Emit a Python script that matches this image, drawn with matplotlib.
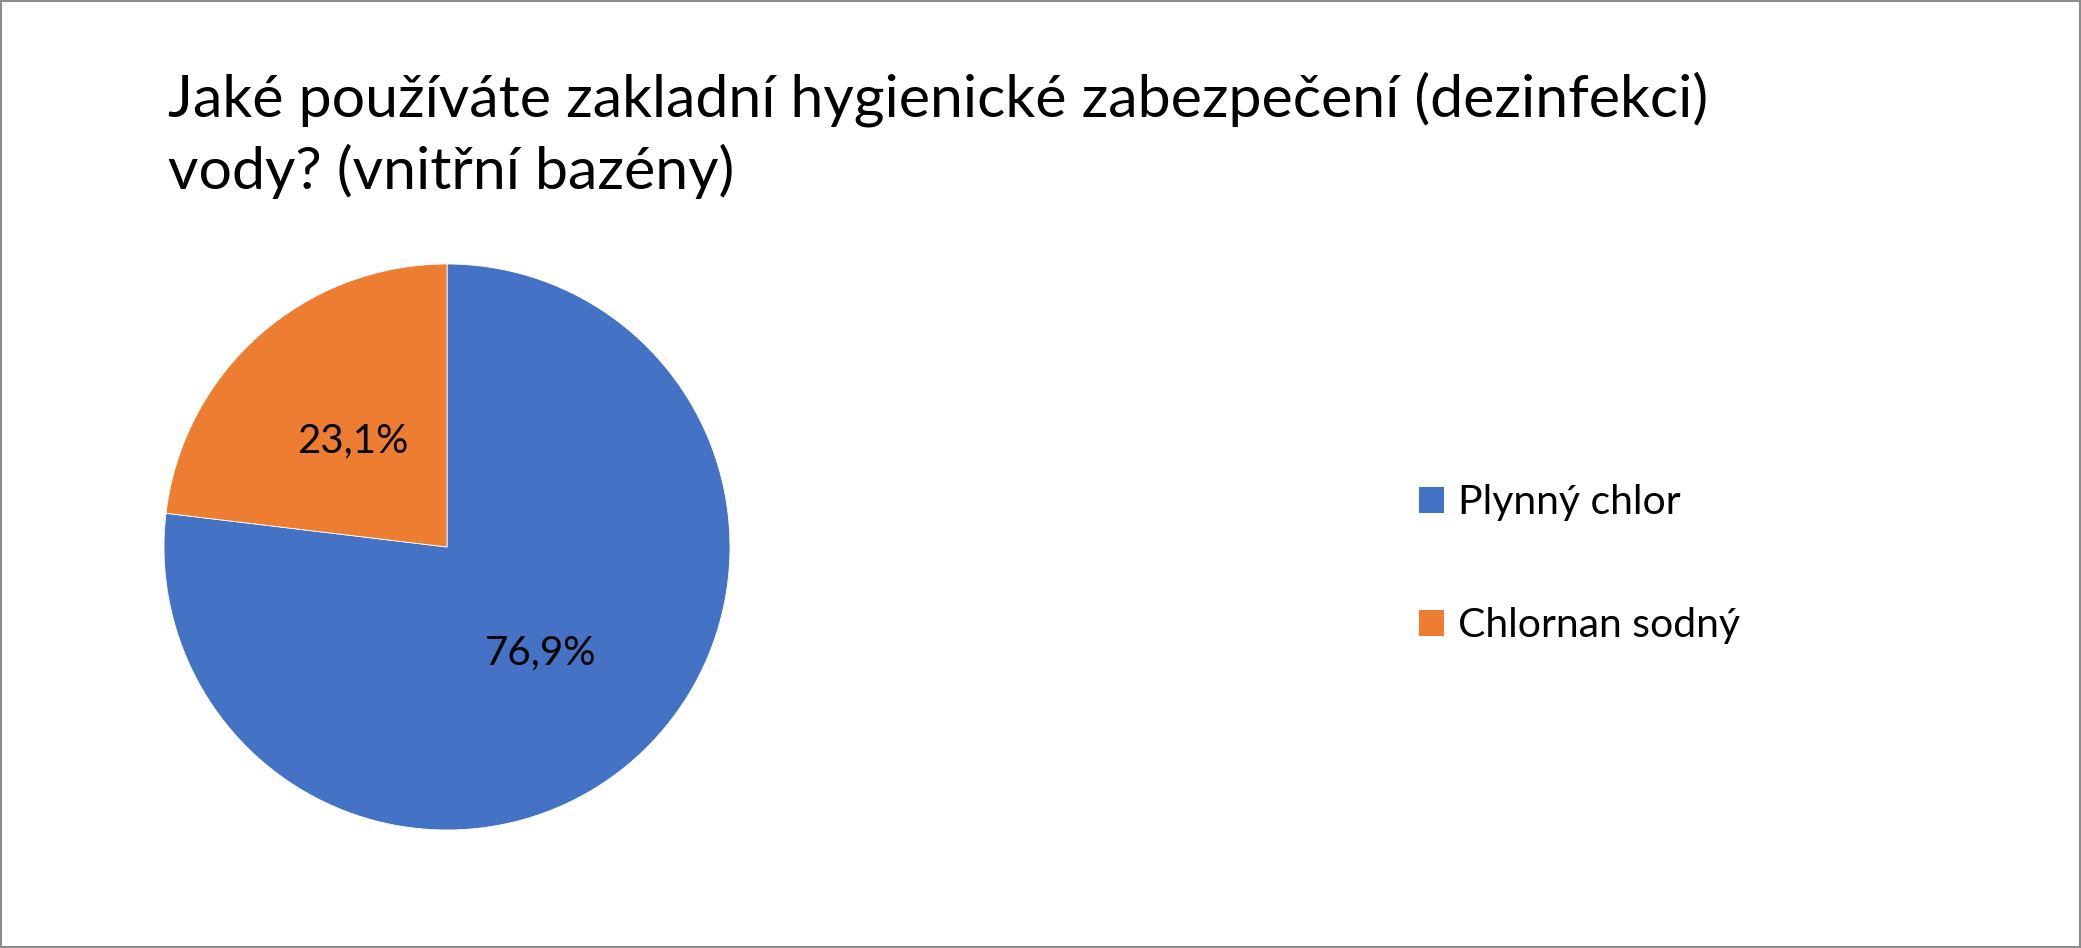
import matplotlib
matplotlib.use("Agg")
import matplotlib.pyplot as plt
from matplotlib.patches import Rectangle, Patch
import numpy as np

plt.rcParams['font.family'] = ['Lato', 'DejaVu Sans']

title = "Jaké používáte zakladní hygienické zabezpečení (dezinfekci)\nvody? (vnitřní bazény)"
categories = ["Plynný chlor", "Chlornan sodný"]
values = [76.9, 23.1]
labels_pct = ["76,9%", "23,1%"]
colors = ["#4472C4", "#ED7D31"]

W, H = 2081, 948
fig = plt.figure(figsize=(W / 100, H / 100), dpi=100)
fig.patch.set_facecolor("white")

# border
fig.patches.append(Rectangle((0.0005, 0.001), 0.999, 0.998, transform=fig.transFigure,
                             fill=False, edgecolor="#8c8c8c", linewidth=1.5))

# title (baseline of the last line)
fig.text(168 / W, 1 - 189 / H, title, fontsize=42.5, ha="left", va="baseline",
         linespacing=1.38, color="black")

cx, cy, r = 447, H - 547, 283
ax = fig.add_axes([(cx - r) / W, (cy - r) / H, 2 * r / W, 2 * r / H])
wedges, texts = ax.pie(values, colors=colors, startangle=90, counterclock=False,
                       radius=1, wedgeprops=dict(edgecolor="white", linewidth=0.6))
for w, lab in zip(wedges, labels_pct):
    ang = np.deg2rad((w.theta1 + w.theta2) / 2)
    ax.text(0.5 * np.cos(ang), 0.5 * np.sin(ang), lab, ha="center", va="center",
            fontsize=29, color="black")
ax.set_xlim(-1, 1)
ax.set_ylim(-1, 1)
ax.set_aspect("equal")
ax.axis("off")

handles = [Patch(facecolor=c, edgecolor="none") for c in colors]
fig.legend(handles, categories, loc="center left",
           bbox_to_anchor=(1419 / W, 1 - 564 / H), frameon=False, fontsize=29.5,
           handlelength=0.6, handleheight=0.6, handletextpad=0.35, labelspacing=2.1,
           borderpad=0, borderaxespad=0)

fig.savefig("out.png", dpi=100, facecolor="white")
